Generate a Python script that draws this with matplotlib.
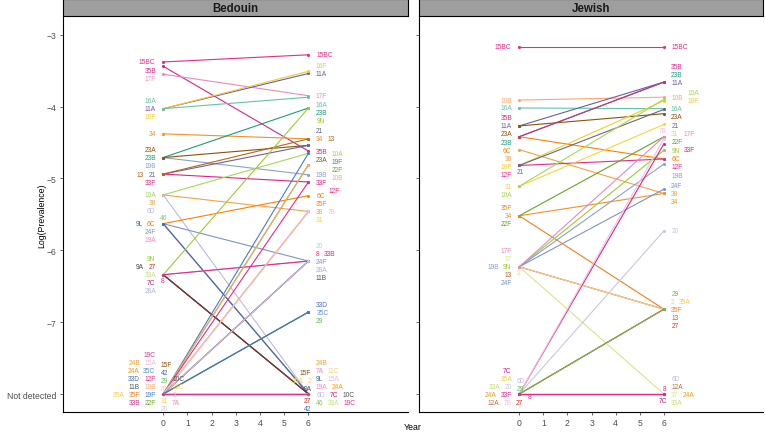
import matplotlib
matplotlib.use("Agg")
import matplotlib.pyplot as plt
import numpy as np

plt.rcParams['font.family'] = ['Liberation Sans', 'DejaVu Sans']

ND = -8.0  # value used for "Not detected"

# colour of every serotype (same in both panels)
sero_colors = {
    '15BC': '#E7298A', '35B': '#D6268C', '17F': '#E78AC3', '11A': '#6A5FA8',
    '16F': '#F2CC2A', '16A': '#66C2A5', '34': '#F0922B', '23B': '#1B9E77',
    '19B': '#8DA0CB', '23A': '#8C510A', '21': '#66668C', '33F': '#E0218A',
    '13': '#B5651D', '10A': '#A6D854', '38': '#F4A24A', '6D': '#BEBADA',
    '6C': '#FF7F00', '24F': '#7F93C8', '46': '#8CC45A', '19A': '#F08CC8',
    '9L': '#386CB0', '33A': '#C7E07A', '7C': '#C71585', '9A': '#444444',
    '28A': '#A8B8E0', '9N': '#9ACD32', '27': '#D7301F', '8': '#E7298A',
    '19F': '#4A7BC8', '22F': '#66A61E', '10B': '#FDA870', '12F': '#E7298A',
    '31': '#F5D63A', '35F': '#F08020', '7B': '#F4C2DE', '33B': '#D42A8C',
    '11B': '#555555', '20': '#C8C8E0', '35C': '#5A8FD0', '29': '#66BD63',
    '33D': '#4A6FB5', '42': '#386CB0', '19C': '#DD3497', '24A': '#F39C12',
    '15A': '#F7B6D2', '7A': '#E78AC3', '11C': '#F5D76E', '15F': '#8C510A',
    '24B': '#F0A030', '10C': '#555555', '35A': '#F2D14B', '2': '#FDCB8A',
    '12A': '#C0703A', '37': '#D9E68A',
}

# Bedouin: log prevalence at year 0 and year 6
bed_sero = ['15BC', '35B', '17F', '11A', '16F', '16A', '34', '23B', '19B', '23A',
            '21', '33F', '13', '10A', '38', '6D', '6C', '24F', '46', '19A',
            '9L', '33A', '7C', '27', '28A', '9N', '9A', '8',
            '19F', '22F', '10B', '12F', '31', '35F', '7B', '33B', '11B', '20',
            '35C', '29', '33D',
            '42', '2', '24A', '15A', '7A', '11C', '15F', '24B', '10C', '35A', '19C']
bed_y0 = [-3.38, -3.44, -3.55, -4.03, -4.03, -4.03, -4.38, -4.71, -4.71, -4.71,
          -4.94, -4.94, -4.94, -5.23, -5.23, -5.23, -5.63, -5.63, -5.63, -5.63,
          -5.63, -6.34, -6.34, -6.34, -6.34, -6.34, -6.34, -6.34,
          ND, ND, ND, ND, ND, ND, ND, ND, ND, ND,
          ND, ND, ND,
          ND, ND, ND, ND, ND, ND, ND, ND, ND, ND, ND]
bed_y6 = [-3.28, -4.62, -3.85, -3.54, -3.51, -3.87, -4.45, -4.02, -4.95, -4.54,
          -4.54, -5.05, -4.45, -4.65, -5.46, ND, -5.24, -6.15, ND, ND,
          ND, ND, ND, ND, -6.15, -4.02, ND, -6.15,
          -4.65, -4.81, -4.81, -5.05, -5.46, -5.46, -5.46, -6.15, -6.15, -6.15,
          -6.86, -6.86, -6.86,
          ND, ND, ND, ND, ND, ND, ND, ND, ND, ND, ND]

# Jewish
jew_sero = ['15BC', '10B', '16A', '11A', '23A', '23B', '6C', '35B', '38', '16F',
            '12F', '21', '31', '10A', '34', '22F', '35F',
            '9N', '13', '37', '19B', '24F', '2', '17F',
            '33F', '7B', '20', '35A', '27', '29',
            '33A', '12A', '24A', '6D', '7C', '8']
jew_y0 = [-3.17, -3.91, -4.02, -4.27, -4.27, -4.42, -4.42, -4.42, -4.60, -4.82,
          -4.82, -4.82, -5.11, -5.11, -5.52, -5.52, -5.52,
          -6.23, -6.23, -6.23, -6.23, -6.23, -6.23, -6.23,
          ND, ND, ND, ND, ND, ND,
          ND, ND, ND, ND, ND, ND]
jew_y6 = [-3.17, -3.87, -4.03, -3.66, -4.10, -3.66, -4.73, -3.66, -5.21, -3.92,
          -4.73, -4.04, -4.25, -3.90, -5.21, -4.42, -6.82,
          -4.61, -6.82, ND, -4.80, -5.15, -6.82, -4.42,
          -4.52, -4.45, -5.73, -6.82, -6.82, -6.82,
          ND, ND, ND, ND, ND, ND]

years = [0, 6]
yticks = [-3, -4, -5, -6, -7, ND]
ytick_labels = ['\u22123', '\u22124', '\u22125', '\u22126', '\u22127', 'Not detected']

XLIM = (-4.15, 10.1)
YLIM = (-8.25, -2.74)
LABEL_FS = 4.8


def repel_labels(ax, labels, points):
    # simple greedy stand-in for ggrepel: put each label at the nearest free spot
    renderer = ax.figure.canvas.get_renderer()
    trans = ax.transData
    inv = trans.inverted()
    bb = ax.get_window_extent(renderer)
    pts = trans.transform(points)
    gx, gy = np.meshgrid(np.arange(-90, 90.1, 1.0), np.arange(-80, 80.1, 1.0))
    gx = gx.ravel()
    gy = gy.ravel()
    placed = []
    for x, y, s, c, side in labels:
        t = ax.text(x, y, s, fontsize=LABEL_FS, color=c, ha='center', va='center', zorder=5)
        ext = t.get_window_extent(renderer)
        w = ext.width + 1.0
        h = ext.height * 0.8
        px, py = trans.transform((x, y))
        cx = px + gx
        cy = py + gy
        x0, x1 = cx - w / 2, cx + w / 2
        y0, y1 = cy - h / 2, cy + h / 2
        ok = (x0 > bb.x0 + 2) & (x1 < bb.x1 - 2) & (y0 > bb.y0 + 1) & (y1 < bb.y1 - 2)
        if placed:
            P = np.array(placed)
            ov = ((x0[:, None] < P[None, :, 2]) & (x1[:, None] > P[None, :, 0]) &
                  (y0[:, None] < P[None, :, 3]) & (y1[:, None] > P[None, :, 1])).any(1)
            ok &= ~ov
        pin = ((pts[None, :, 0] > x0[:, None] - 3) & (pts[None, :, 0] < x1[:, None] + 3) &
               (pts[None, :, 1] > y0[:, None] - 3) & (pts[None, :, 1] < y1[:, None] + 3)).any(1)
        ok &= ~pin
        cost = np.hypot(gx - side * (w / 2 + 7), gy * 0.8)
        cost[~ok] = np.inf
        k = int(np.argmin(cost))
        t.set_position(inv.transform((cx[k], cy[k])))
        placed.append((x0[k] - 3.0, y0[k] - 2.2, x1[k] + 3.0, y1[k] + 2.2))


def draw_panel(ax, title, sero, y0, y6, rect, show_y):
    ax.set_xlim(*XLIM)
    ax.set_ylim(*YLIM)
    for s, a, b in zip(sero, y0, y6):
        ax.plot(years, [a, b], color=sero_colors[s], lw=0.8, zorder=2)
    pts = [(0, a) for a in y0] + [(6, b) for b in y6]
    for s, a, b in zip(sero, y0, y6):
        ax.scatter(years, [a, b], s=5, color=sero_colors[s], zorder=3, linewidths=0)
    labels = [(0, a, s, sero_colors[s], -1) for s, a in zip(sero, y0)]
    labels += [(6, b, s, sero_colors[s], 1) for s, b in zip(sero, y6)]
    repel_labels(ax, labels, np.array(pts))

    ax.set_xticks(range(7))
    ax.set_yticks(yticks)
    if show_y:
        ax.set_yticklabels(ytick_labels)
    else:
        ax.set_yticklabels([])
        ax.tick_params(axis='y', length=0)
    ax.tick_params(labelsize=6.2, colors='#4D4D4D', length=2.5, width=0.6, pad=2)
    for sp in ['top', 'right']:
        ax.spines[sp].set_visible(False)
    for sp in ['left', 'bottom']:
        ax.spines[sp].set_linewidth(0.8)

    strip = ax.figure.add_axes([rect[0], 0.961, rect[2], 0.039])
    strip.set_facecolor('#9E9E9E')
    strip.set_xticks([])
    strip.set_yticks([])
    for sp in strip.spines.values():
        sp.set_linewidth(0.8)
    strip.text(0.5, 0.45, title, ha='center', va='center', fontsize=8.3,
               fontweight='bold', color='#1A1A1A', transform=strip.transAxes)


fig = plt.figure(figsize=(7.65, 4.35), dpi=100)
rect_b = [0.082, 0.0506, 0.451, 0.9104]
rect_j = [0.548, 0.0506, 0.449, 0.9104]
ax_b = fig.add_axes(rect_b)
ax_j = fig.add_axes(rect_j)
draw_panel(ax_b, 'Bedouin', bed_sero, bed_y0, bed_y6, rect_b, True)
draw_panel(ax_j, 'Jewish', jew_sero, jew_y0, jew_y6, rect_j, False)

fig.text(0.54, 0.006, 'Year', ha='center', va='bottom', fontsize=6.3)
fig.text(0.054, 0.505, 'Log(Prevalence)', rotation=90, ha='center', va='center', fontsize=6.3)

fig.savefig('out.png', dpi=100)
